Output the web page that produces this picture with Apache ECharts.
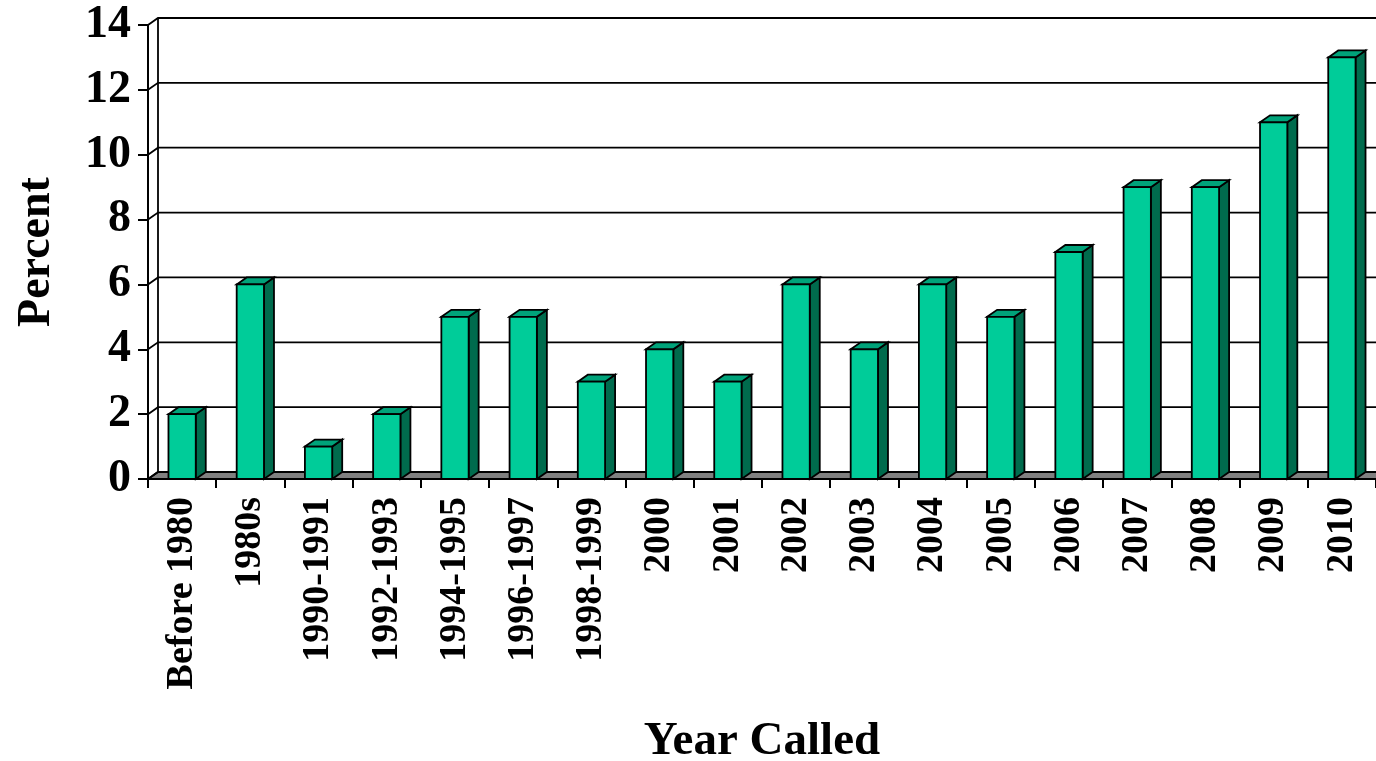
<!DOCTYPE html>
<html>
<head>
<meta charset="utf-8">
<script src="https://cdn.jsdelivr.net/npm/echarts@6/dist/echarts.min.js"></script>
<style>
html,body{margin:0;padding:0;background:#fff;}
#chart{width:1376px;height:761px;}
</style>
</head>
<body>
<div id="chart"></div>
<script>
var categories = ['Before 1980','1980s','1990-1991','1992-1993','1994-1995','1996-1997','1998-1999','2000','2001','2002','2003','2004','2005','2006','2007','2008','2009','2010'];
var percentValues = [2,6,1,2,5,5,3,4,3,6,4,6,5,7,9,9,11,13];
var yTicks = [0,2,4,6,8,10,12,14];

var DX = 10, DY = -7;
var FONT = '"Liberation Serif", "Times New Roman", serif';
var FRONT = '#00CC99', SIDE = '#006B4D', TOP = '#00A37A';

var chart = echarts.init(document.getElementById('chart'), null, {renderer:'canvas'});

function wallItem(params, api) {
  var v = api.value(0);
  var cs = params.coordSys;
  var y = api.coord([0, v])[1];
  var x0 = cs.x, x1 = 1400;
  var children = [];
  if (v === 0) {
    children.push({
      type:'polygon',
      shape:{points:[[x0,y],[x0+DX,y+DY],[x1,y+DY],[x1,y]]},
      style:{fill:'#808080', stroke:'#000', lineWidth:1.8}
    });
    var yTop = api.coord([0, yTicks[yTicks.length-1]])[1];
    children.push({
      type:'line',
      shape:{x1:x0+DX,y1:y+DY,x2:x0+DX,y2:yTop+DY},
      style:{stroke:'#000', lineWidth:1.8}
    });
  }
  children.push({
    type:'polyline',
    shape:{points:[[x0,y],[x0+DX,y+DY],[x1,y+DY]]},
    style:{stroke:'#000', lineWidth:1.8, fill:null}
  });
  return {type:'group', children:children};
}

function barItem(params, api) {
  var idx = api.value(0), v = api.value(1);
  var top = api.coord([idx, v]);
  var base = api.coord([idx, 0]);
  var w = api.size([1, 0])[0] * 0.4;
  var l = top[0] - w/2, r = top[0] + w/2;
  var yt = top[1], yb = base[1];
  var st = {stroke:'#000', lineWidth:1.8, lineJoin:'miter'};
  return {
    type:'group',
    children:[
      {type:'polygon', shape:{points:[[r,yt],[r+DX,yt+DY],[r+DX,yb+DY],[r,yb]]}, style:Object.assign({fill:SIDE}, st)},
      {type:'polygon', shape:{points:[[l,yt],[l+DX,yt+DY],[r+DX,yt+DY],[r,yt]]}, style:Object.assign({fill:TOP}, st)},
      {type:'rect', shape:{x:l, y:yt, width:w, height:yb-yt}, style:Object.assign({fill:FRONT}, st)}
    ]
  };
}

chart.setOption({
  animation:false,
  backgroundColor:'#fff',
  grid:{left:148, top:25, width:1228, height:454, containLabel:false, outerBoundsMode:'none'},
  xAxis:{
    type:'category',
    data:categories,
    boundaryGap:true,
    axisLine:{show:true, lineStyle:{color:'#000', width:2}},
    axisTick:{show:true, interval:0, length:9, lineStyle:{color:'#000', width:2}},
    axisLabel:{interval:0, rotate:90, margin:18, color:'#000', fontSize:38, fontWeight:'bold', fontFamily:FONT},
    name:'Year Called',
    nameLocation:'middle',
    nameGap:239,
    nameTextStyle:{color:'#000', fontSize:47, fontWeight:'bold', fontFamily:FONT},
    splitLine:{show:false}
  },
  yAxis:{
    type:'value',
    min:0, max:14, interval:2,
    axisLine:{show:true, lineStyle:{color:'#000', width:2}},
    axisTick:{show:true, length:10, lineStyle:{color:'#000', width:2}},
    axisLabel:{margin:17, padding:[9,0,0,0], color:'#000', fontSize:46, fontWeight:'bold', fontFamily:FONT},
    splitLine:{show:false},
    name:'Percent',
    nameLocation:'middle',
    nameRotate:90,
    nameGap:88,
    nameTextStyle:{color:'#000', fontSize:46, fontWeight:'bold', fontFamily:FONT}
  },
  series:[
    {
      type:'custom',
      name:'wall',
      coordinateSystem:'cartesian2d',
      renderItem:wallItem,
      data:yTicks.map(function(t){return [t];}),
      encode:{y:0},
      z:1,
      silent:true
    },
    {
      type:'custom',
      name:'Percent',
      coordinateSystem:'cartesian2d',
      renderItem:barItem,
      data:percentValues.map(function(v,i){return [i,v];}),
      encode:{x:0, y:1},
      z:3
    }
  ]
});
</script>
</body>
</html>
